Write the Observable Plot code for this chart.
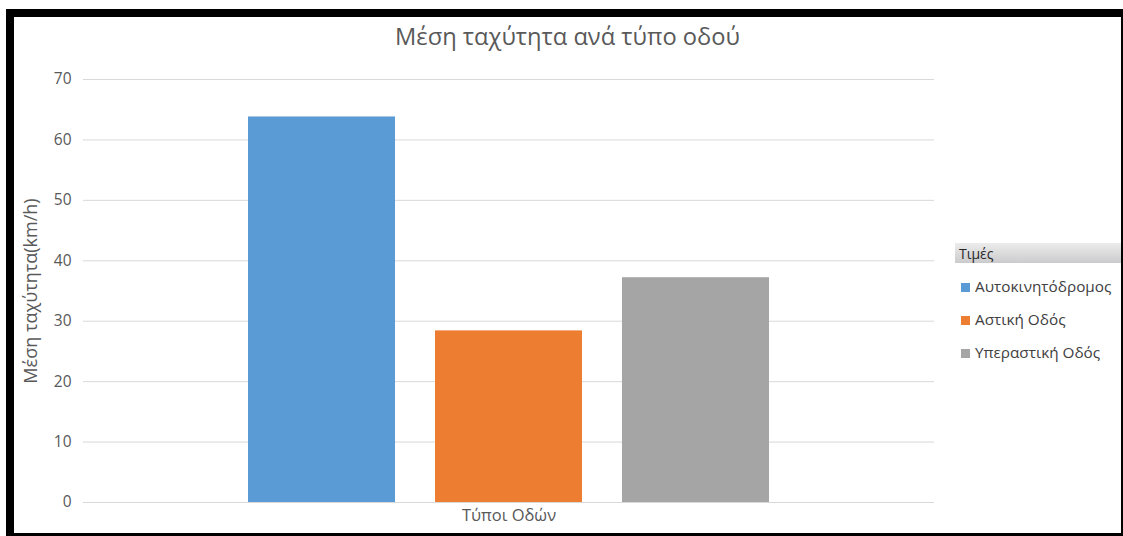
<!DOCTYPE html>
<html>
<head>
<meta charset="utf-8">
<script src="https://cdn.jsdelivr.net/npm/d3@7"></script>
<script src="https://cdn.jsdelivr.net/npm/@observablehq/plot@0.6"></script>
<style>
  html, body { margin: 0; padding: 0; background: #fff; }
  body { width: 1123px; height: 536px; position: relative; overflow: hidden; font-family: "Open Sans", "Noto Sans", sans-serif; }
  #frame {
    position: absolute; left: 6px; top: 9px; width: 1117px; height: 527px;
    box-sizing: border-box;
    border-top: 8px solid #000; border-left: 8px solid #000;
    border-right: 2px solid #000; border-bottom: 3px solid #000;
    background: #fff;
  }
  #title {
    position: absolute; left: 0; right: 0; top: 3px; text-align: center;
    font-size: 23.7px; color: #595959; white-space: nowrap;
  }
  #chart { position: absolute; left: 0; top: 43px; }
  #legend { position: absolute; left: 941px; top: 226px; width: 166px; font-size: 15.3px; color: #404040; }
  #legend .head {
    background: linear-gradient(to bottom, #ececec, #cbcbcd);
    padding: 0 0 0 4px; height: 20px; line-height: 21px; color: #262626; font-size: 14px;
  }
  #legend .list { margin-top: 7px; }
  #legend .item { height: 33px; line-height: 33px; white-space: nowrap; padding-left: 6px; }
  #legend .sw { display: inline-block; width: 9px; height: 9px; margin-right: 5px; vertical-align: 0px; }
</style>
</head>
<body>
<div id="frame">
  <div id="title"></div>
  <div id="chart"></div>
  <div id="legend"></div>
</div>
<script>
const chartTitle = "Μέση ταχύτητα ανά τύπο οδού";
const yLabel = "Μέση ταχύτητα(km/h)";
const category = "Τύποι Οδών";
const legendTitle = "Τιμές";
const series = ["Αυτοκινητόδρομος", "Αστική Οδός", "Υπεραστική Οδός"];
const values = [63.8, 28.4, 37.2];
const colors = ["#5b9bd5", "#ed7d31", "#a5a5a5"];
const yTicks = [0, 10, 20, 30, 40, 50, 60, 70];

const data = series.map((s, i) => ({category, series: s, value: values[i]}));

document.getElementById("title").textContent = chartTitle;

const chart = Plot.plot({
  width: 1105,
  height: 474,
  marginLeft: 69,
  marginRight: 185,
  marginTop: 19,
  marginBottom: 32,
  style: {fontFamily: "'Open Sans', 'Noto Sans', sans-serif", fontSize: "15px", color: "#595959", background: "transparent"},
  fx: {domain: [category], padding: 0, label: null},
  x: {domain: series, paddingInner: 0.214, paddingOuter: 0.88, axis: null},
  y: {domain: [0, 70], ticks: yTicks, label: null},
  color: {domain: series, range: colors},
  marks: [
    Plot.gridY(yTicks, {stroke: "#d9d9d9", strokeOpacity: 1}),
    Plot.axisY(yTicks, {tickSize: 0, tickPadding: 12, fontSize: 15.5, label: null}),
    Plot.axisY(yTicks, {tickSize: 0, text: () => "", fontSize: 18, label: yLabel, labelAnchor: "center", labelArrow: "none", labelOffset: 59}),
    Plot.axisFx({anchor: "bottom", tickSize: 0, tickPadding: 7, fontSize: 16.5, label: null}),
    Plot.barY(data, {fx: "category", x: "series", y: "value", fill: "series"})
  ]
});
document.getElementById("chart").appendChild(chart);

const legend = document.getElementById("legend");
const head = document.createElement("div");
head.className = "head";
head.textContent = legendTitle;
legend.appendChild(head);
const list = document.createElement("div");
list.className = "list";
legend.appendChild(list);
series.forEach((s, i) => {
  const item = document.createElement("div");
  item.className = "item";
  const sw = document.createElement("span");
  sw.className = "sw";
  sw.style.background = colors[i];
  item.appendChild(sw);
  item.appendChild(document.createTextNode(s));
  list.appendChild(item);
});
</script>
</body>
</html>
